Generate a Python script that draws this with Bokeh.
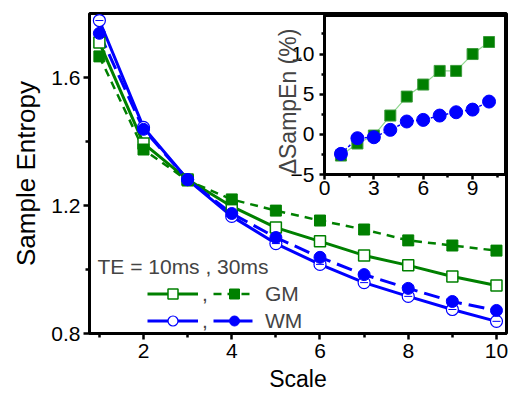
import math
from bokeh.plotting import figure
from bokeh.models import Range1d, LinearAxis, FixedTicker, Legend, LegendItem, Label
from bokeh.embed import file_html
from bokeh.resources import INLINE

# ---------------- data ----------------
scale = [1, 2, 3, 4, 5, 6, 7, 8, 9, 10]
gm_10ms = [1.709, 1.394, 1.281, 1.197, 1.131, 1.088, 1.044, 1.013, 0.978, 0.950]
gm_30ms = [1.666, 1.375, 1.278, 1.219, 1.184, 1.153, 1.125, 1.091, 1.075, 1.059]
wm_10ms = [1.778, 1.444, 1.281, 1.166, 1.081, 1.016, 0.959, 0.916, 0.875, 0.838]
wm_30ms = [1.738, 1.438, 1.281, 1.175, 1.100, 1.038, 0.984, 0.941, 0.900, 0.872]

inset_scale = [1, 2, 3, 4, 5, 6, 7, 8, 9, 10]
d_gm = [-2.64, -1.14, -0.15, 2.34, 4.7, 6.2, 7.9, 7.9, 10.0, 11.5]
d_wm = [-2.43, -0.48, -0.36, 0.56, 1.6, 1.8, 2.34, 2.75, 3.08, 4.08]

x_major = [2, 4, 6, 8, 10]
x_minor = [1, 3, 5, 7, 9]
y_major = [0.8, 1.2, 1.6]
y_minor = [1.0, 1.4]
ix_major = [0, 3, 6, 9]
ix_minor = [1.5, 4.5, 7.5, 10.5]
iy_major = [-5, 0, 5, 10]
iy_minor = [-2.5, 2.5, 7.5, 12.5]

X_RANGE = (0.776, 10.227)
Y_RANGE = (0.8, 1.8)
INSET_X = (0, 11)
INSET_Y = (-5, 14.8)

# ---------------- layout constants (pixels) ----------------
FRAME_L, FRAME_R, FRAME_T, FRAME_B = 89, 506, 13, 333   # page px of main frame
INS_L, INS_R, INS_T, INS_B = 324, 505, 15, 174          # page px of inset box
X_LABEL_CENTER = 283   # page px where "Scale" is centred
Y_LABEL_CENTER = 186   # page px where "Sample Entropy" is centred

FONT = "Liberation Sans"
GREEN = "#008000"
BLUE = "#0000ff"

p = figure(frame_width=FRAME_R - FRAME_L, frame_height=FRAME_B - FRAME_T,
           x_range=Range1d(*X_RANGE), y_range=Range1d(*Y_RANGE),
           output_backend="svg", toolbar_location=None,
           min_border_left=FRAME_L, min_border_right=2,
           min_border_top=FRAME_T, min_border_bottom=55)
p.xgrid.visible = False
p.ygrid.visible = False
p.outline_line_color = "black"
p.outline_line_width = 3
p.background_fill_color = "white"


def style_axis(ax, tick_out, minor_out, label_size, standoff):
    ax.axis_line_width = 3
    ax.axis_line_color = "black"
    ax.major_tick_line_width = 2.5
    ax.minor_tick_line_width = 2.5
    ax.major_tick_in = 0
    ax.major_tick_out = tick_out
    ax.minor_tick_in = 0
    ax.minor_tick_out = minor_out
    ax.major_label_text_font = FONT
    ax.major_label_text_font_size = label_size
    ax.major_label_text_color = "black"
    ax.major_label_standoff = standoff
    ax.axis_label_text_font = FONT
    ax.axis_label_text_font_size = "23px"
    ax.axis_label_text_font_style = "normal"
    ax.axis_label_text_color = "black"


xa = p.xaxis[0]
ya = p.yaxis[0]
xa.ticker = FixedTicker(ticks=x_major, minor_ticks=x_minor)
ya.ticker = FixedTicker(ticks=y_major, minor_ticks=y_minor)
style_axis(xa, 6, 4, "21px", 4)
style_axis(ya, 6, 4, "21px", 3)

# y-axis title: shorten the axis rule (the outline still draws the frame edge)
# so that the title is centred where the reference has it
y_px = (FRAME_B - FRAME_T) / (Y_RANGE[1] - Y_RANGE[0])
y_center_val = Y_RANGE[0] + (FRAME_B - Y_LABEL_CENTER) / y_px
ya.bounds = (Y_RANGE[0], 2 * y_center_val - Y_RANGE[0])
ya.axis_label = "Sample Entropy"
ya.axis_label_text_font_size = "26px"
ya.axis_label_standoff = 7

# x-axis title on its own tick-less axis, centred like the reference
x_px = (FRAME_R - FRAME_L) / (X_RANGE[1] - X_RANGE[0])
x_center_val = X_RANGE[0] + (X_LABEL_CENTER - FRAME_L) / x_px
xl = LinearAxis(ticker=FixedTicker(ticks=[]), bounds=(X_RANGE[0], 2 * x_center_val - X_RANGE[0]))
style_axis(xl, 0, 0, "21px", 0)
xl.axis_line_alpha = 0
xl.axis_label = "Scale"
xl.axis_label_standoff = 5
p.add_layout(xl, "below")

# main series: lines first, markers on top
l_gm10 = p.line(scale, gm_10ms, line_color=GREEN, line_width=3)
l_gm30 = p.line(scale, gm_30ms, line_color=GREEN, line_width=2.5, line_dash="8 6")
l_wm10 = p.line(scale, wm_10ms, line_color=BLUE, line_width=3)
l_wm30 = p.line(scale, wm_30ms, line_color=BLUE, line_width=3, line_dash="16 7")

m_gm10 = p.scatter(scale, gm_10ms, marker="square", size=11, fill_color="white",
                   line_color=GREEN, line_width=1.5)
m_gm30 = p.scatter(scale, gm_30ms, marker="square", size=11, fill_color=GREEN,
                   line_color=GREEN, line_width=1)
m_wm10 = p.scatter(scale, wm_10ms, marker="circle", size=12, fill_color="white",
                   line_color=BLUE, line_width=1.2)
p.scatter(scale, wm_10ms, marker="dash", size=8, line_color=BLUE, line_width=1)
m_wm30 = p.scatter(scale, wm_30ms, marker="circle", size=12, fill_color=BLUE,
                   line_color=BLUE, line_width=1)

# ---------------- inset via extra ranges ----------------
ipx_x = (INS_R - INS_L) / (INSET_X[1] - INSET_X[0])
ipx_y = (INS_B - INS_T) / (INSET_Y[1] - INSET_Y[0])
ix_start = INSET_X[0] - (INS_L - FRAME_L) / ipx_x
ix_end = INSET_X[1] + (FRAME_R - INS_R) / ipx_x
iy_start = INSET_Y[0] - (FRAME_B - INS_B) / ipx_y
iy_end = INSET_Y[1] + (INS_T - FRAME_T) / ipx_y
p.extra_x_ranges = {"ix": Range1d(ix_start, ix_end)}
p.extra_y_ranges = {"iy": Range1d(iy_start, iy_end)}

p.quad(left=[INSET_X[0]], right=[INSET_X[1]], bottom=[INSET_Y[0]], top=[INSET_Y[1]],
       x_range_name="ix", y_range_name="iy", fill_color="white",
       line_color="black", line_width=3)
p.line(inset_scale, d_gm, x_range_name="ix", y_range_name="iy",
       line_color="#8fd88f", line_width=1.2)
p.line(inset_scale, d_wm, x_range_name="ix", y_range_name="iy",
       line_color=BLUE, line_width=1.5, line_dash="3 2")
p.scatter(inset_scale, d_gm, x_range_name="ix", y_range_name="iy", marker="square",
          size=11, fill_color="#007f00", line_color="#3a9a3a", line_width=1)
p.scatter(inset_scale, d_wm, x_range_name="ix", y_range_name="iy", marker="circle",
          size=13, fill_color=BLUE, line_color=BLUE, line_width=1)

iax_x = LinearAxis(x_range_name="ix", y_range_name="iy", fixed_location=INSET_Y[0],
                   bounds=INSET_X, ticker=FixedTicker(ticks=ix_major, minor_ticks=ix_minor))
iax_y = LinearAxis(x_range_name="ix", y_range_name="iy", fixed_location=INSET_X[0],
                   bounds=INSET_Y, ticker=FixedTicker(ticks=iy_major, minor_ticks=iy_minor))
style_axis(iax_x, 5, 3, "21px", 1)
style_axis(iax_y, 5, 3, "21px", 5)
p.add_layout(iax_x, "below")
p.add_layout(iax_y, "left")

p.add_layout(Label(x=287 - FRAME_L, y=FRAME_B - 101, x_units="screen", y_units="screen",
                   text="ΔSampEn (%)", angle=math.pi / 2, text_font=FONT,
                   text_font_size="23px", text_align="center", text_baseline="alphabetic"))

# ---------------- legend ----------------
p.add_layout(Label(x=97 - FRAME_L, y=FRAME_B - 266, x_units="screen", y_units="screen",
                   text="TE = 10ms , 30ms", text_font=FONT, text_font_size="21px",
                   text_align="left", text_baseline="middle"))


def make_legend(items, loc, gw, standoff):
    lg = Legend(items=items, location=loc, orientation="vertical")
    lg.background_fill_alpha = 0
    lg.border_line_alpha = 0
    lg.padding = 0
    lg.margin = 0
    lg.glyph_width = gw
    lg.glyph_height = 25
    lg.label_height = 25
    lg.spacing = 2
    lg.label_standoff = standoff
    lg.label_text_font = FONT
    lg.label_text_font_size = "21px"
    return lg


leg_a = make_legend([LegendItem(label=",", renderers=[l_gm10, m_gm10]),
                     LegendItem(label=",", renderers=[l_wm10, m_wm10])],
                    (147 - FRAME_L, 0), 51, 4)
leg_b = make_legend([LegendItem(label="GM", renderers=[l_gm30, m_gm30]),
                     LegendItem(label="WM", renderers=[l_wm30, m_wm30])],
                    (213 - FRAME_L, 0), 42, 10)
p.add_layout(leg_a, "center")
p.add_layout(leg_b, "center")

open("out.html", "w").write(file_html(p, INLINE))
